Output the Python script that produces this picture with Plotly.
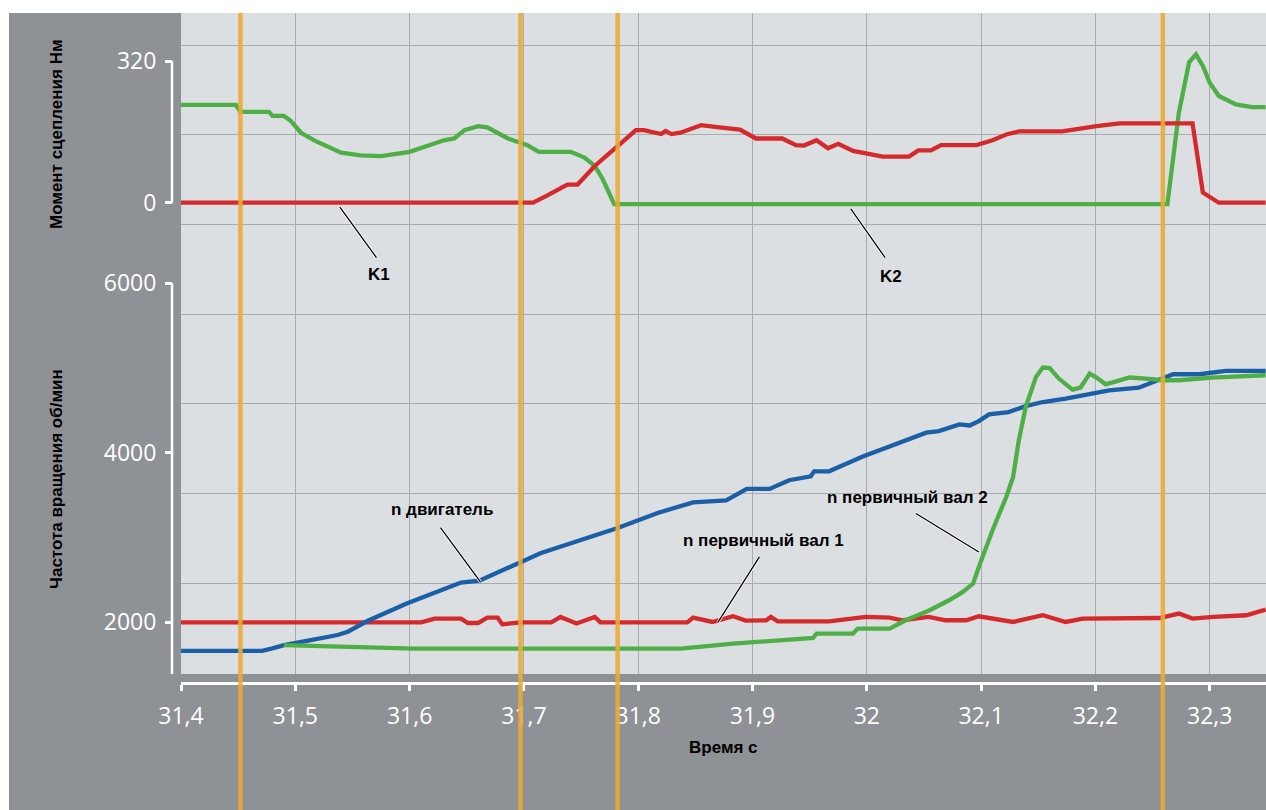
import plotly.graph_objects as go

# ---- data ----
x_ticks = [31.4, 31.5, 31.6, 31.7, 31.8, 31.9, 32.0, 32.1, 32.2, 32.3]
events = [31.452, 31.697, 31.782, 32.259]
torque_ticks = [0, 320]
rpm_ticks = [2000, 4000, 6000]

# clutch torque K1 (red) / K2 (green), Nm
t_k1 = [31.400, 31.708, 31.721, 31.738, 31.747, 31.762, 31.782, 31.791, 31.798, 31.805,
        31.814, 31.820, 31.824, 31.829, 31.837, 31.846, 31.855, 31.871, 31.889, 31.903,
        31.926, 31.938, 31.945, 31.956, 31.966, 31.975, 31.988, 32.014, 32.037, 32.045,
        32.056, 32.065, 32.096, 32.110, 32.122, 32.133, 32.171, 32.201, 32.221, 32.285,
        32.294, 32.308, 32.349]
k1 = [0, 0, 17, 41, 41, 83, 128, 147, 164, 164,
      158, 155, 162, 155, 158, 166, 175, 170, 165, 145,
      145, 130, 129, 141, 123, 133, 117, 104, 104, 118,
      118, 130, 130, 141, 154, 161, 161, 173, 179, 179,
      23, 0, 0]

t_k2 = [31.400, 31.448, 31.452, 31.477, 31.480, 31.490, 31.496, 31.505, 31.517, 31.540,
        31.557, 31.575, 31.600, 31.630, 31.639, 31.648, 31.660, 31.668, 31.686, 31.703,
        31.713, 31.741, 31.753, 31.762, 31.769, 31.779, 32.263, 32.273, 32.282, 32.288,
        32.294, 32.300, 32.308, 32.323, 32.337, 32.349]
k2 = [221, 221, 205, 205, 196, 196, 185, 158, 140, 113,
      107, 105, 115, 141, 145, 164, 173, 170, 145, 130,
      115, 115, 102, 83, 53, -3, -3, 203, 317, 335,
      309, 271, 241, 222, 216, 216]

# speeds, rpm
t_eng = [31.400, 31.471, 31.480, 31.490, 31.517, 31.537, 31.546, 31.563, 31.598, 31.645,
         31.661, 31.692, 31.715, 31.782, 31.817, 31.848, 31.877, 31.895, 31.915, 31.932,
         31.941, 31.951, 31.954, 31.967, 31.996, 32.020, 32.037, 32.052, 32.063, 32.081,
         32.090, 32.098, 32.107, 32.124, 32.139, 32.154, 32.174, 32.201, 32.212, 32.238,
         32.259, 32.268, 32.291, 32.314, 32.349]
n_eng = [1664, 1664, 1692, 1731, 1799, 1850, 1889, 2015, 2225, 2469,
         2492, 2678, 2817, 3112, 3290, 3415, 3439, 3574, 3574, 3676,
         3704, 3723, 3782, 3782, 3953, 4078, 4157, 4237, 4256, 4335,
         4323, 4374, 4453, 4480, 4551, 4599, 4639, 4702, 4737, 4769,
         4876, 4927, 4927, 4966, 4966]

t_n1 = [31.400, 31.610, 31.622, 31.645, 31.651, 31.660, 31.668, 31.677, 31.681, 31.692,
        31.697, 31.724, 31.732, 31.746, 31.762, 31.767, 31.843, 31.848, 31.865, 31.883,
        31.894, 31.912, 31.916, 31.922, 31.967, 31.999, 32.020, 32.031, 32.054, 32.069,
        32.087, 32.098, 32.110, 32.128, 32.154, 32.174, 32.189, 32.256, 32.273, 32.285,
        32.303, 32.332, 32.349]
n1 = [2000, 2000, 2044, 2044, 1992, 1992, 2055, 2055, 1976, 1992,
      2000, 2000, 2063, 1985, 2063, 2000, 2000, 2055, 2004, 2071,
      2020, 2024, 2063, 2012, 2012, 2063, 2055, 2024, 2063, 2024,
      2024, 2071, 2044, 2004, 2083, 2004, 2044, 2051, 2103, 2044,
      2063, 2083, 2150]

t_n2 = [31.490, 31.604, 31.837, 31.883, 31.953, 31.956, 31.988, 31.992, 32.020, 32.034,
        32.055, 32.072, 32.084, 32.093, 32.098, 32.110, 32.122, 32.128, 32.133, 32.139,
        32.148, 32.154, 32.160, 32.168, 32.180, 32.187, 32.195, 32.201, 32.209, 32.218,
        32.230, 32.244, 32.259, 32.273, 32.302, 32.349]
n2 = [1731, 1690, 1690, 1749, 1815, 1867, 1867, 1926, 1926, 2024,
      2142, 2260, 2358, 2457, 2653, 3086, 3479, 3715, 4148, 4541,
      4895, 5006, 5000, 4876, 4746, 4770, 4935, 4888, 4808, 4837,
      4888, 4876, 4856, 4856, 4888, 4915]

# ---- page geometry (pixels of the reference) ----
W, H = 1266, 810
AX_L = 172      # y axis brackets
PLOT_L = 181
PLOT_T = 13
PLOT_B = 674
AX_B = 683      # x axis line
PX_PER_S = 1143
GRID_Y0, GRID_STEP = 673, 89.67   # background grid, independent of the scales

RED = '#d42a2c'
GREEN = '#4eaf46'
BLUE = '#1b5fa6'
ORANGE = '#ecaa36'
DARK = '#8e9195'
LIGHT = '#dcdfe2'
GRIDC = '#a8abaf'


def px_x(px):
    return (px - AX_L) / (W - AX_L)


def px_y(py):
    return (AX_B - py) / (AX_B - PLOT_T)


def axis_range(pa, va, pb, vb):
    s = (vb - va) / (pb - pa)
    return [va + (PLOT_B - pa) * s, va + (PLOT_T - pa) * s]


torque_range = axis_range(202.7, 0, 61, 320)
rpm_range = axis_range(622.3, 2000, 283.3, 6000)
# grid line positions expressed on the torque scale
t_per_px = (torque_range[1] - torque_range[0]) / (PLOT_B - PLOT_T)
grid_vals = [torque_range[0] + (PLOT_B - (GRID_Y0 - k * GRID_STEP)) * t_per_px for k in range(8)]

fig = go.Figure()

fig.add_trace(go.Scatter(x=t_k2, y=k2, yaxis='y', mode='lines',
                         line=dict(color=GREEN, width=4.3)))
fig.add_trace(go.Scatter(x=t_k1, y=k1, yaxis='y', mode='lines',
                         line=dict(color=RED, width=4.3)))
fig.add_trace(go.Scatter(x=t_n1, y=n1, yaxis='y2', mode='lines',
                         line=dict(color=RED, width=4.3)))
fig.add_trace(go.Scatter(x=t_eng, y=n_eng, yaxis='y2', mode='lines',
                         line=dict(color=BLUE, width=4.3)))
fig.add_trace(go.Scatter(x=t_n2, y=n2, yaxis='y2', mode='lines',
                         line=dict(color=GREEN, width=4.3)))

shapes = []
# white frame strips on left and top
shapes.append(dict(type='rect', xref='paper', yref='paper', layer='above',
                   x0=px_x(-5), x1=px_x(9), y0=px_y(H + 5), y1=px_y(-5),
                   fillcolor='white', line_width=0))
shapes.append(dict(type='rect', xref='paper', yref='paper', layer='above',
                   x0=px_x(-5), x1=px_x(W + 5), y0=px_y(13), y1=px_y(-5),
                   fillcolor='white', line_width=0))
# y axis brackets
shapes.append(dict(type='line', xref='paper', yref='y', x0=0, x1=0,
                   y0=torque_ticks[0], y1=torque_ticks[-1],
                   line=dict(color='white', width=2.5)))
shapes.append(dict(type='line', xref='paper', yref='y2', x0=0, x1=0,
                   y0=rpm_range[0], y1=rpm_ticks[-1],
                   line=dict(color='white', width=2.5)))
# switching moments
for t in events:
    shapes.append(dict(type='line', xref='x', yref='paper', layer='above',
                       x0=t, x1=t, y0=px_y(H + 5), y1=1,
                       line=dict(color=ORANGE, width=4.5), opacity=0.9))

# callouts: (text, axis, text pos, line start, line end)
callouts = [
    ('K1', 'y', (31.573, -163), (31.539, -10), (31.571, -124)),
    ('K2', 'y', (32.021, -166), (31.986, -14), (32.016, -124)),
    ('n двигатель', 'y2', (31.628, 3333), (31.627, 3117), (31.662, 2476)),
    ('n первичный вал 1', 'y2', (31.910, 2968), (31.906, 2771), (31.870, 2004)),
    ('n первичный вал 2', 'y2', (32.036, 3475), (32.043, 3283), (32.098, 2830)),
]
label_font = dict(family='Liberation Sans', size=17, color='black')
annotations = []
for text, ax, pos, p0, p1 in callouts:
    for col, w in (('white', 3), ('black', 1.3)):
        shapes.append(dict(type='line', xref='x', yref=ax, layer='above',
                           x0=p0[0], y0=p0[1], x1=p1[0], y1=p1[1],
                           line=dict(color=col, width=w)))
    annotations.append(dict(text='<b>%s</b>' % text, xref='x', yref=ax,
                            x=pos[0], y=pos[1], showarrow=False,
                            xanchor='center', yanchor='middle', font=label_font))

annotations.append(dict(text='<b>Момент сцепления Нм</b>', xref='paper', yref='paper',
                        x=px_x(56), y=px_y(134), textangle=-90, showarrow=False,
                        xanchor='center', yanchor='middle', font=label_font))
annotations.append(dict(text='<b>Частота вращения об/мин</b>', xref='paper', yref='paper',
                        x=px_x(56), y=px_y(479), textangle=-90, showarrow=False,
                        xanchor='center', yanchor='middle', font=label_font))
annotations.append(dict(text='<b>Время с</b>', xref='paper', yref='paper',
                        x=px_x(723), y=px_y(747), showarrow=False,
                        xanchor='center', yanchor='middle', font=label_font))

tick_font = dict(family='Open Sans', size=23, color='white')

fig.update_layout(
    width=W, height=H,
    margin=dict(l=AX_L, r=0, t=PLOT_T, b=H - AX_B, pad=0),
    paper_bgcolor=DARK, plot_bgcolor=LIGHT,
    showlegend=False,
    separators=', ',
    shapes=shapes,
    annotations=annotations,
    xaxis=dict(domain=[px_x(PLOT_L), 1], anchor='free', position=0,
               range=[x_ticks[0], x_ticks[0] + (W - PLOT_L) / PX_PER_S],
               tickvals=x_ticks, showgrid=True, gridcolor=GRIDC, gridwidth=1,
               zeroline=False, showline=True, linecolor='white', linewidth=2.5,
               ticks='outside', ticklen=6, tickwidth=2.5, tickcolor='white',
               tickfont=tick_font, ticklabelstandoff=6),
    yaxis=dict(domain=[px_y(PLOT_B), 1], anchor='free', position=0, side='left',
               range=torque_range, tickvals=torque_ticks, showgrid=False, zeroline=False,
               ticks='outside', ticklen=7, tickwidth=2.5, tickcolor='white',
               tickfont=tick_font, ticklabelstandoff=4,
               minor=dict(tickvals=grid_vals, showgrid=True, gridcolor=GRIDC,
                          gridwidth=1, ticks='')),
    yaxis2=dict(overlaying='y', anchor='free', position=0, side='left',
                range=rpm_range, tickvals=rpm_ticks, showgrid=False, zeroline=False,
                ticks='outside', ticklen=7, tickwidth=2.5, tickcolor='white',
                tickfont=tick_font, ticklabelstandoff=4),
)

fig.write_html("out.html", config={'displayModeBar': False},
               post_script="document.body.style.margin='0px';")
